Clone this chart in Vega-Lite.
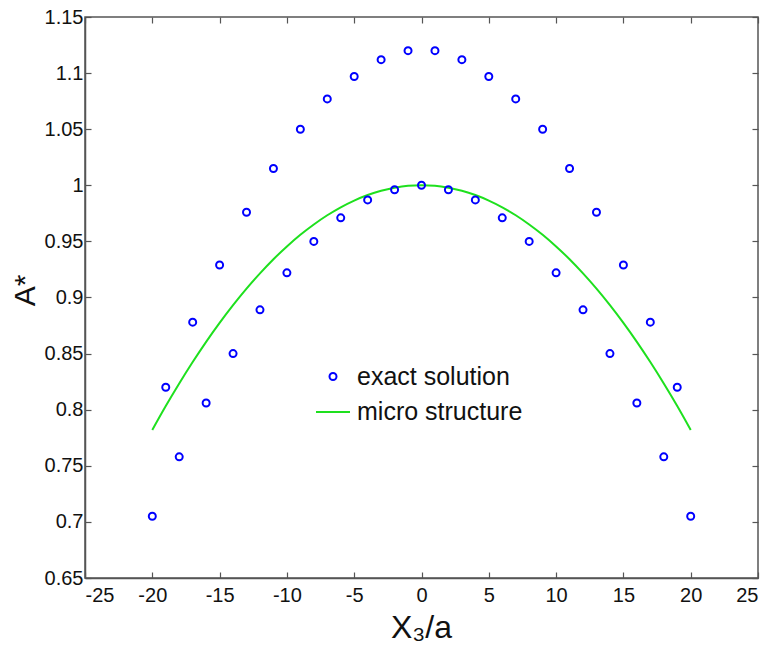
{
  "$schema": "https://vega.github.io/schema/vega-lite/v6.json",
  "width": 673,
  "height": 561,
  "autosize": "none",
  "padding": {"left": 85, "top": 17, "right": 11, "bottom": 75},
  "background": "white",
  "config": {
    "font": "Liberation Sans",
    "view": {"stroke": "#555555", "strokeWidth": 1.5},
    "axis": {
      "grid": false,
      "domainColor": "#555555",
      "domainWidth": 1.5,
      "tickColor": "#555555",
      "tickWidth": 1.2,
      "tickSize": -6,
      "labelFont": "Liberation Sans",
      "labelFontSize": 20,
      "labelColor": "#111111",
      "labelExpr": "'' + datum.value",
      "titleFont": "Liberation Sans",
      "titleFontWeight": "normal",
      "titleColor": "#111111"
    },
    "legend": {
      "labelFont": "Liberation Sans",
      "labelFontSize": 25,
      "labelColor": "#111111",
      "labelLimit": 400
    }
  },
  "datasets": {
    "exact": [
      {"x": -20, "a": 0.705, "series": "exact solution"},
      {"x": -19, "a": 0.820, "series": "exact solution"},
      {"x": -18, "a": 0.758, "series": "exact solution"},
      {"x": -17, "a": 0.878, "series": "exact solution"},
      {"x": -16, "a": 0.806, "series": "exact solution"},
      {"x": -15, "a": 0.929, "series": "exact solution"},
      {"x": -14, "a": 0.850, "series": "exact solution"},
      {"x": -13, "a": 0.976, "series": "exact solution"},
      {"x": -12, "a": 0.889, "series": "exact solution"},
      {"x": -11, "a": 1.015, "series": "exact solution"},
      {"x": -10, "a": 0.922, "series": "exact solution"},
      {"x": -9, "a": 1.050, "series": "exact solution"},
      {"x": -8, "a": 0.950, "series": "exact solution"},
      {"x": -7, "a": 1.077, "series": "exact solution"},
      {"x": -6, "a": 0.971, "series": "exact solution"},
      {"x": -5, "a": 1.097, "series": "exact solution"},
      {"x": -4, "a": 0.987, "series": "exact solution"},
      {"x": -3, "a": 1.112, "series": "exact solution"},
      {"x": -2, "a": 0.996, "series": "exact solution"},
      {"x": -1, "a": 1.120, "series": "exact solution"},
      {"x": 0, "a": 1.000, "series": "exact solution"},
      {"x": 1, "a": 1.120, "series": "exact solution"},
      {"x": 2, "a": 0.996, "series": "exact solution"},
      {"x": 3, "a": 1.112, "series": "exact solution"},
      {"x": 4, "a": 0.987, "series": "exact solution"},
      {"x": 5, "a": 1.097, "series": "exact solution"},
      {"x": 6, "a": 0.971, "series": "exact solution"},
      {"x": 7, "a": 1.077, "series": "exact solution"},
      {"x": 8, "a": 0.950, "series": "exact solution"},
      {"x": 9, "a": 1.050, "series": "exact solution"},
      {"x": 10, "a": 0.922, "series": "exact solution"},
      {"x": 11, "a": 1.015, "series": "exact solution"},
      {"x": 12, "a": 0.889, "series": "exact solution"},
      {"x": 13, "a": 0.976, "series": "exact solution"},
      {"x": 14, "a": 0.850, "series": "exact solution"},
      {"x": 15, "a": 0.929, "series": "exact solution"},
      {"x": 16, "a": 0.806, "series": "exact solution"},
      {"x": 17, "a": 0.878, "series": "exact solution"},
      {"x": 18, "a": 0.758, "series": "exact solution"},
      {"x": 19, "a": 0.820, "series": "exact solution"},
      {"x": 20, "a": 0.705, "series": "exact solution"}
    ],
    "micro": [
      {"x": -20, "a": 0.7820, "series": "micro structure"},
      {"x": -19, "a": 0.8033, "series": "micro structure"},
      {"x": -18, "a": 0.8234, "series": "micro structure"},
      {"x": -17, "a": 0.8425, "series": "micro structure"},
      {"x": -16, "a": 0.8605, "series": "micro structure"},
      {"x": -15, "a": 0.8774, "series": "micro structure"},
      {"x": -14, "a": 0.8932, "series": "micro structure"},
      {"x": -13, "a": 0.9079, "series": "micro structure"},
      {"x": -12, "a": 0.9215, "series": "micro structure"},
      {"x": -11, "a": 0.9341, "series": "micro structure"},
      {"x": -10, "a": 0.9455, "series": "micro structure"},
      {"x": -9, "a": 0.9559, "series": "micro structure"},
      {"x": -8, "a": 0.9651, "series": "micro structure"},
      {"x": -7, "a": 0.9733, "series": "micro structure"},
      {"x": -6, "a": 0.9804, "series": "micro structure"},
      {"x": -5, "a": 0.9864, "series": "micro structure"},
      {"x": -4, "a": 0.9913, "series": "micro structure"},
      {"x": -3, "a": 0.9951, "series": "micro structure"},
      {"x": -2, "a": 0.9978, "series": "micro structure"},
      {"x": -1, "a": 0.9995, "series": "micro structure"},
      {"x": 0, "a": 1.0000, "series": "micro structure"},
      {"x": 1, "a": 0.9995, "series": "micro structure"},
      {"x": 2, "a": 0.9978, "series": "micro structure"},
      {"x": 3, "a": 0.9951, "series": "micro structure"},
      {"x": 4, "a": 0.9913, "series": "micro structure"},
      {"x": 5, "a": 0.9864, "series": "micro structure"},
      {"x": 6, "a": 0.9804, "series": "micro structure"},
      {"x": 7, "a": 0.9733, "series": "micro structure"},
      {"x": 8, "a": 0.9651, "series": "micro structure"},
      {"x": 9, "a": 0.9559, "series": "micro structure"},
      {"x": 10, "a": 0.9455, "series": "micro structure"},
      {"x": 11, "a": 0.9341, "series": "micro structure"},
      {"x": 12, "a": 0.9215, "series": "micro structure"},
      {"x": 13, "a": 0.9079, "series": "micro structure"},
      {"x": 14, "a": 0.8932, "series": "micro structure"},
      {"x": 15, "a": 0.8774, "series": "micro structure"},
      {"x": 16, "a": 0.8605, "series": "micro structure"},
      {"x": 17, "a": 0.8425, "series": "micro structure"},
      {"x": 18, "a": 0.8234, "series": "micro structure"},
      {"x": 19, "a": 0.8033, "series": "micro structure"},
      {"x": 20, "a": 0.7820, "series": "micro structure"}
    ]
  },
  "layer": [
    {
      "data": {"name": "micro"},
      "mark": {"type": "line", "strokeWidth": 2, "interpolate": "monotone"},
      "encoding": {
        "x": {
          "field": "x", "type": "quantitative",
          "scale": {"domain": [-25, 25], "nice": false},
          "axis": {
            "orient": "top", "values": [-25, -20, -15, -10, -5, 0, 5, 10, 15, 20, 25],
            "labels": false, "title": null, "domain": false
          }
        },
        "y": {
          "field": "a", "type": "quantitative",
          "scale": {"domain": [0.65, 1.15], "nice": false, "zero": false},
          "axis": {
            "orient": "right", "values": [0.65, 0.7, 0.75, 0.8, 0.85, 0.9, 0.95, 1, 1.05, 1.1, 1.15],
            "labels": false, "title": null, "domain": false
          }
        },
        "color": {
          "field": "series", "type": "nominal",
          "scale": {"domain": ["exact solution", "micro structure"], "range": ["#0000ff", "#1ee01e"]}
        }
      }
    },
    {
      "data": {"name": "exact"},
      "mark": {"type": "point", "filled": false, "strokeWidth": 2, "opacity": 1},
      "encoding": {
        "x": {
          "field": "x", "type": "quantitative",
          "axis": {
            "orient": "bottom", "values": [-25, -20, -15, -10, -5, 0, 5, 10, 15, 20, 25],
            "labelPadding": 13, "title": "X₃/a", "titleFontSize": 32,
            "titleBaseline": "alphabetic", "titleX": 336, "titleY": 59
          }
        },
        "y": {
          "field": "a", "type": "quantitative",
          "axis": {
            "orient": "left", "values": [0.65, 0.7, 0.75, 0.8, 0.85, 0.9, 0.95, 1, 1.05, 1.1, 1.15],
            "labelPadding": 8, "title": "A*", "titleFontSize": 30,
            "titleBaseline": "alphabetic", "titleX": -51, "titleY": 273
          }
        },
        "color": {
          "field": "series", "type": "nominal",
          "scale": {"domain": ["exact solution", "micro structure"], "range": ["#0000ff", "#1ee01e"]},
          "legend": {
            "title": null, "orient": "none", "legendX": 230, "legendY": 347,
            "padding": 0, "rowPadding": 4, "labelOffset": 6, "symbolStrokeWidth": 2
          }
        },
        "shape": {
          "field": "series", "type": "nominal",
          "scale": {"domain": ["exact solution", "micro structure"], "range": ["circle", "stroke"]}
        },
        "size": {
          "field": "series", "type": "nominal",
          "scale": {"type": "ordinal", "domain": ["exact solution", "micro structure"], "range": [49, 1156]}
        }
      }
    }
  ],
  "resolve": {"axis": {"x": "independent", "y": "independent"}}
}
